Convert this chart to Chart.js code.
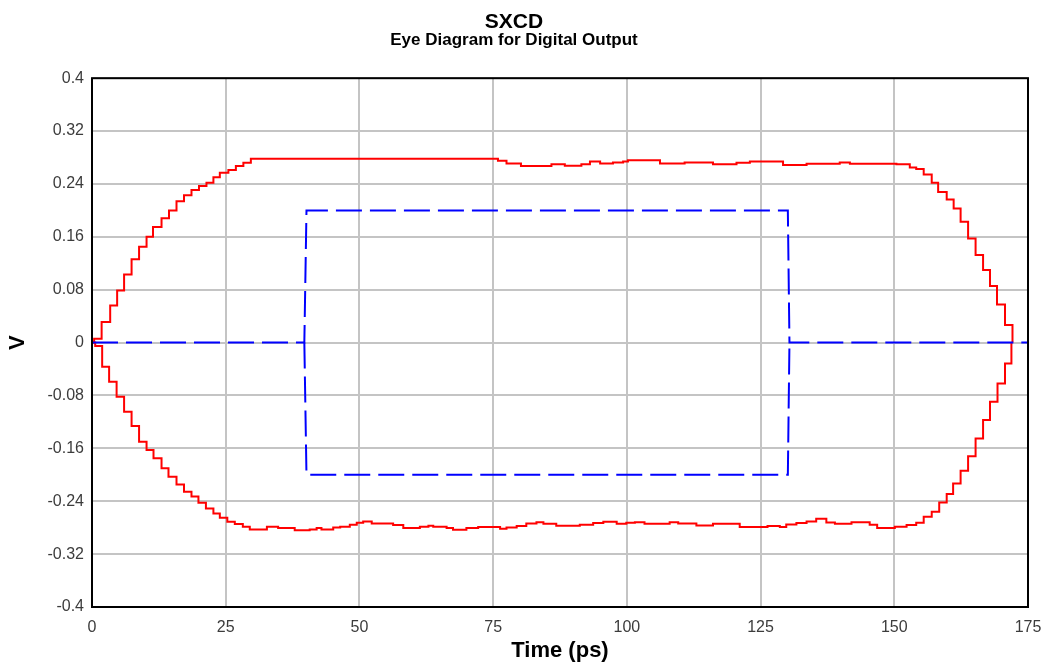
<!DOCTYPE html>
<html>
<head>
<meta charset="utf-8">
<title>SXCD Eye Diagram</title>
<script src="https://cdn.jsdelivr.net/npm/chart.js@4.4.1/dist/chart.umd.min.js"></script>
<style>
  html, body { margin: 0; padding: 0; background: #fff; }
  #wrap { width: 1044px; height: 664px; position: relative; }
</style>
</head>
<body>
<div id="wrap"><canvas id="eye"></canvas></div>
<script>
// upper edge of the eye (time in ps, volts) - step points
const upperT = [0, 0.4, 1.8, 3.4, 4.7, 6.0, 7.4, 8.8, 10.2, 11.4, 13.0, 14.4, 15.8, 17.2, 18.6, 20.0, 21.4, 22.7, 23.9, 25.5, 26.9, 28.3, 29.7,
    75.9, 77.5, 80.2, 85.9, 88.4, 91.5, 93.1, 95.0, 97.4, 99.3, 100.2, 106.2, 110.8, 116.1, 120.5, 123.0, 129.2, 133.6, 139.8, 141.7,
    150.4, 152.9, 154.1, 155.5, 157.0, 158.2, 159.8, 161.1, 162.4, 163.8, 165.2, 166.6, 167.9, 169.2, 170.7, 172.1];
const upperV = [0, 0.006, 0.031, 0.056, 0.079, 0.103, 0.126, 0.145, 0.160, 0.175, 0.188, 0.200, 0.214, 0.223, 0.231, 0.237, 0.242, 0.250, 0.257, 0.261, 0.267, 0.272, 0.278,
    0.275, 0.271, 0.267, 0.270, 0.2675, 0.270, 0.274, 0.271, 0.2725, 0.274, 0.2757, 0.271, 0.2725, 0.270, 0.272, 0.274, 0.2685, 0.2705, 0.2725, 0.2705,
    0.2697, 0.265, 0.2625, 0.2545, 0.2418, 0.228, 0.2166, 0.203, 0.183, 0.1576, 0.1324, 0.1097, 0.0855, 0.0578, 0.0265, 0];

// lower edge of the eye
const lowerT = [0, 0.6, 1.9, 3.2, 4.6, 6.0, 7.4, 8.8, 10.2, 11.5, 13.0, 14.3, 15.8, 17.2, 18.6, 19.9, 21.3, 22.7, 23.9, 25.3, 26.7, 28.2, 29.5,
    32.7, 34.8, 37.9, 40.7, 42.0, 42.9, 45.1, 46.4, 48.2, 49.5, 50.7, 52.3, 56.3, 58.2, 61.3, 62.9, 63.8, 66.3, 67.5, 70.0, 72.2,
    76.3, 77.5, 79.4, 81.2, 83.1, 84.4, 86.8, 91.2, 93.7, 95.6, 98.1, 99.9, 101.5, 103.3, 108.0, 109.6, 113.0, 116.1, 121.1, 126.3, 128.6,
    129.8, 131.7, 133.6, 135.4, 137.3, 138.9, 142.0, 145.4, 146.8, 150.1, 152.3, 154.1, 155.5, 157.0, 158.4, 159.8, 161.0, 162.4, 163.8,
    165.2, 166.6, 167.9, 169.3, 170.7, 171.9];
const lowerV = [0, -0.005, -0.0366, -0.0593, -0.082, -0.1047, -0.1263, -0.150, -0.1626, -0.175, -0.190, -0.203, -0.2145, -0.2257, -0.233, -0.2423, -0.251, -0.2584, -0.265, -0.271, -0.2746, -0.2786, -0.2826,
    -0.2786, -0.2806, -0.284, -0.2826, -0.2806, -0.2826, -0.2796, -0.2786, -0.2756, -0.2726, -0.2705, -0.2736, -0.276, -0.2806, -0.2786, -0.277, -0.2786, -0.2806, -0.283, -0.2806, -0.279,
    -0.2817, -0.2796, -0.2776, -0.2736, -0.2716, -0.274, -0.277, -0.2756, -0.273, -0.271, -0.274, -0.2726, -0.2716, -0.274, -0.2716, -0.2736, -0.2766, -0.274, -0.279, -0.2776, -0.279,
    -0.275, -0.273, -0.2705, -0.2666, -0.272, -0.274, -0.2716, -0.2756, -0.2806, -0.2786, -0.276, -0.2726, -0.2635, -0.256, -0.242, -0.229, -0.213, -0.194, -0.172,
    -0.145, -0.117, -0.0895, -0.062, -0.0315, 0];

// eye mask: upper half with the zero-level reference, then the lower half
const maskTopT = [0, 39.7, 40.1, 130.1, 130.4, 175];
const maskTopV = [0, 0, 0.2, 0.2, 0, 0];
const maskBotT = [39.7, 40.1, 130.1, 130.4];
const maskBotV = [0, -0.2, -0.2, 0];

const xTicksStep = 25;
const yTicksStep = 0.08;

function pts(xs, ys) {
    return xs.map((x, i) => ({ x: x, y: ys[i] }));
}

const frame = {
    id: 'frame',
    afterDraw(chart) {
        const a = chart.chartArea;
        const ctx = chart.ctx;
        ctx.save();
        ctx.strokeStyle = '#000';
        ctx.lineWidth = 2;
        ctx.strokeRect(a.left, a.top, a.right - a.left, a.bottom - a.top);
        ctx.restore();
    }
};

const blue = { borderColor: '#0000ff', borderWidth: 2, borderDash: [26, 8], pointRadius: 0, fill: false, tension: 0 };
const red = { borderColor: '#ff0000', borderWidth: 2, pointRadius: 0, fill: false, stepped: 'before' };
const fontFamily = 'Liberation Sans, Arial, sans-serif';

new Chart(document.getElementById('eye'), {
    type: 'line',
    data: {
        datasets: [
            Object.assign({ label: 'Mask', data: pts(maskTopT, maskTopV) }, blue),
            Object.assign({ label: 'Mask low', data: pts(maskBotT, maskBotV) }, blue),
            Object.assign({ label: 'Upper', data: pts(upperT, upperV) }, red),
            Object.assign({ label: 'Lower', data: pts(lowerT, lowerV) }, red)
        ]
    },
    options: {
        responsive: true,
        maintainAspectRatio: false,
        animation: false,
        layout: { padding: { left: 0, right: 16, top: 0, bottom: 0 } },
        plugins: {
            legend: { display: false },
            tooltip: { enabled: false },
            title: {
                display: true,
                text: 'SXCD',
                color: '#000',
                font: { family: fontFamily, size: 21, weight: 'bold', lineHeight: 0.9 },
                padding: { top: 13, bottom: 0 }
            },
            subtitle: {
                display: true,
                text: 'Eye Diagram for Digital Output',
                color: '#000',
                font: { family: fontFamily, size: 17, weight: 'bold', lineHeight: 0.9 },
                padding: { top: 1, bottom: 30 }
            }
        },
        scales: {
            x: {
                type: 'linear',
                min: 0,
                max: 175,
                afterFit: s => { s.height = 57; s.paddingLeft = 0; s.paddingRight = 0; },
                ticks: {
                    stepSize: xTicksStep,
                    padding: 11,
                    color: '#3c3c3c',
                    font: { family: fontFamily, size: 16 }
                },
                grid: { color: '#c4c4c4', lineWidth: 2, drawTicks: false },
                border: { display: false },
                title: {
                    display: true,
                    text: 'Time (ps)',
                    color: '#000',
                    font: { family: fontFamily, size: 22, weight: 'bold' },
                    padding: { top: 0, bottom: 0 }
                }
            },
            y: {
                min: -0.4,
                max: 0.4,
                afterFit: s => { s.width = 92; s.paddingTop = 0; s.paddingBottom = 0; },
                ticks: {
                    stepSize: yTicksStep,
                    padding: 8,
                    color: '#3c3c3c',
                    font: { family: fontFamily, size: 16 },
                    callback: v => String(Math.round(v * 100) / 100)
                },
                grid: { color: '#c4c4c4', lineWidth: 2, drawTicks: false },
                border: { display: false },
                title: {
                    display: true,
                    text: 'V',
                    color: '#000',
                    font: { family: fontFamily, size: 22, weight: 'bold' },
                    padding: { top: 5, bottom: 0 }
                }
            }
        }
    },
    plugins: [frame]
});
</script>
</body>
</html>
